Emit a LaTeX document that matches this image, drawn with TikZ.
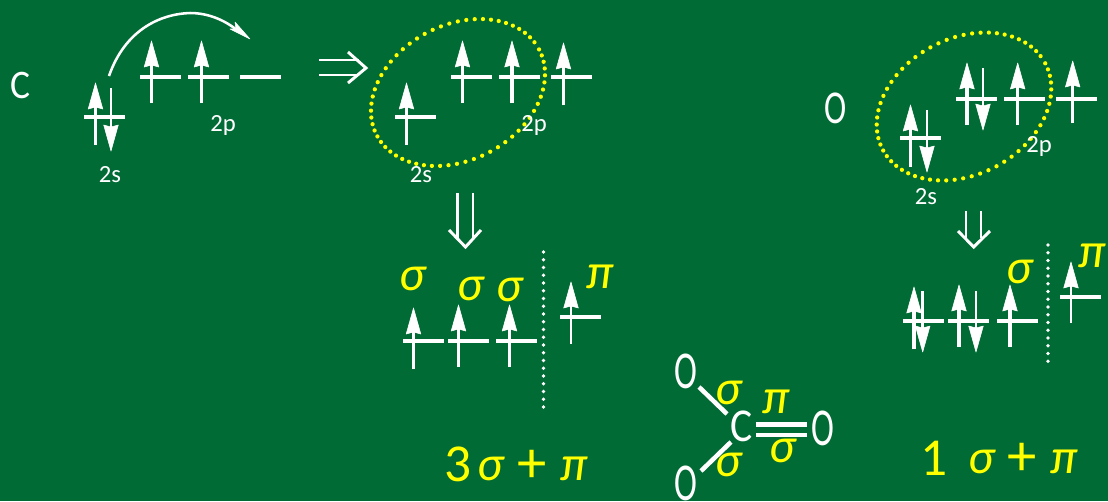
\documentclass[tikz,border=0pt]{standalone}
\usepackage{fontspec}
\setmainfont{Carlito}
\definecolor{board}{RGB}{0,107,53}
\definecolor{chalk}{RGB}{255,255,0}
\tikzset{
  x=0.75pt,y=-0.75pt,
  level/.style={draw=white,line width=2.3pt},
  stem/.style={draw=white,line width=2.6pt},
  thinstem/.style={draw=white,line width=1.9pt},
  head/.style={fill=white,draw=white,line width=0.4pt,line join=round},
  bigarrow/.style={draw=white,line width=2.2pt},
  bond/.style={draw=white,line width=3.4pt},
  small/.style={text=white,inner sep=0pt,font=\fontsize{18.5}{20}\selectfont},
  atom/.style={text=white,inner sep=0pt,font=\fontsize{38}{40}\selectfont},
  greek/.style={text=chalk,inner sep=0pt,font=\itshape\fontsize{37}{39}\selectfont},
  sum/.style={text=chalk,inner sep=0pt,font=\fontsize{40}{42}\selectfont},
  plussign/.style={text=chalk,inner sep=0pt,font=\fontsize{44}{46}\selectfont},
}
\newcommand{\lvl}[3]{\draw[level] (#1,#3) -- (#2,#3);}
\newcommand{\upspin}[3]{\draw[stem] (#1,#3) -- (#1,#2+20);
  \fill[head] (#1,#2) -- (#1+7.3,#2+26) -- (#1,#2+24) -- (#1-7.3,#2+26) -- cycle;}
\newcommand{\upthin}[3]{\draw[thinstem] (#1,#3) -- (#1,#2+20);
  \fill[head] (#1,#2) -- (#1+7.3,#2+26) -- (#1,#2+24) -- (#1-7.3,#2+26) -- cycle;}
\newcommand{\downspin}[3]{\draw[thinstem] (#1,#2) -- (#1,#3-20);
  \fill[head] (#1,#3) -- (#1+7.3,#3-26) -- (#1,#3-24) -- (#1-7.3,#3-26) -- cycle;}
\newcommand{\oxy}{\scalebox{0.68}[1.05]{O}}
% dotted tilted ellipse: centre x, centre y, semi-axes a, b, tilt 28 degrees
\newcommand{\dotring}[4]{\foreach \t in {0,5.6,...,355}{
  \fill[chalk] ({#1+#3*cos(\t)*cos(28)+#4*sin(\t)*sin(28)},{#2-#3*cos(\t)*sin(28)+#4*sin(\t)*cos(28)}) circle (1.6pt);}}
\begin{document}
\begin{tikzpicture}
\useasboundingbox (0,0) rectangle (1108,501);
\fill[board] (0,0) rectangle (1108,501);

% carbon ground state
\node[atom] (catom) at (20,85.5) {\scalebox{0.74}[0.8]{C}};
\lvl{84}{125}{117}
\upspin{95.5}{83}{145}
\downspin{111}{88}{151}
\lvl{140}{181}{77}
\lvl{188}{229}{77}
\lvl{240}{281}{77}
\upspin{151.5}{41}{103}
\upspin{201.5}{41}{103}
\node[small] (cs) at (110,175) {2s};
\node[small] (cp) at (223,125) {2p};
\coordinate (hopa) at (109,76);
\coordinate (hopb) at (190,13);
\coordinate (hopc) at (238,31);
\draw[white,line width=1.9pt] (hopa) .. controls (125,30) and (160,14) .. (hopb) .. controls (208,13) and (225,20) .. (hopc);
\fill[head] (250,39) -- (235,22) -- (236,29) -- (230,29) -- cycle;

% implies
\coordinate (ia) at (319,60);
\coordinate (ib) at (319,75);
\coordinate (ic) at (359,60);
\coordinate (id) at (359,75);
\draw[bigarrow] (ia) -- (ic);
\draw[bigarrow] (ib) -- (id);
\draw[bigarrow] (348,52) -- (366,68) -- (348,83);

% carbon excited state
\dotring{458}{92.5}{91.8}{67.4}
\lvl{395}{436}{117}
\upspin{406.5}{83}{145}
\lvl{451}{492}{77}
\lvl{499}{540}{77}
\lvl{551}{592}{77}
\upspin{462.5}{41}{103}
\upspin{512}{41}{103}
\upthin{563.5}{43}{105}
\node[small] (csb) at (421,175) {2s};
\node[small] (cpb) at (534,125) {2p};

% down arrow carbon
\coordinate (da) at (457.7,193);
\coordinate (db) at (473,193);
\coordinate (dc) at (457.7,238);
\coordinate (dd) at (473,238);
\draw[bigarrow] (da) -- (dc);
\draw[bigarrow] (db) -- (dd);
\draw[bigarrow] (449,230) -- (465.5,247) -- (481,230);

% carbon hybrid
\node[greek] (s1) at (412.5,278.5) {σ};
\node[greek] (s2) at (470.5,288.5) {σ};
\node[greek] (s3) at (509.5,289.5) {σ};
\node[greek] (p1) at (600.5,277) {π};
\lvl{403}{444}{341}
\lvl{448}{489}{341}
\lvl{496}{537}{341}
\upspin{413.5}{308}{369}
\upspin{458.5}{305}{367}
\upspin{509.5}{305}{367}
\foreach \k in {0,...,20} \fill[white] (543.5,{252+7.75*\k}) circle (1.45pt);
\lvl{560}{601}{317}
\upthin{571}{282}{344}
\node[sum] (n3) at (458,464) {3};
\node[greek] (s4) at (490.5,468.5) {σ};
\node[plussign] (plusa) at (532,466.5) {+};
\node[greek] (p2) at (574,468.5) {π};

% molecule
\node[atom] (oa) at (685.5,371) {\oxy};
\node[atom] (cc) at (741.5,426) {\scalebox{0.82}[0.93]{C}};
\node[atom] (ob) at (823,428) {\oxy};
\node[atom] (oc) at (685.5,483.5) {\oxy};
\coordinate (ba) at (699,387);
\coordinate (bb) at (727,414);
\coordinate (bc) at (731,442);
\coordinate (bd) at (701,471);
\coordinate (be) at (756,424.5);
\coordinate (bf) at (807,424.5);
\coordinate (bg) at (756,435);
\coordinate (bh) at (807,435);
\draw[bond] (ba) -- (bb);
\draw[bond] (bc) -- (bd);
\draw[bond] (be) -- (bf);
\draw[bond] (bg) -- (bh);
\node[greek] (s5) at (729,392.5) {σ};
\node[greek] (s6) at (729,465) {σ};
\node[greek] (p3) at (776,402) {π};
\node[greek] (s7) at (782.5,450.5) {σ};

% oxygen ground state
\node[atom] (oatom) at (836,108) {\scalebox{0.66}[0.93]{O}};
\dotring{964}{106.5}{92}{68}
\lvl{900}{941}{138}
\upspin{910.5}{105}{167}
\downspin{927}{110}{172}
\lvl{956}{997}{99}
\lvl{1004}{1045}{99}
\lvl{1056}{1097}{99}
\upspin{967}{63}{125}
\downspin{983}{68}{130}
\upspin{1017.7}{63}{125}
\upspin{1072.7}{61}{123}
\node[small] (os) at (926,197) {2s};
\node[small] (op) at (1039,146) {2p};

% down arrow oxygen
\coordinate (ea) at (966,211);
\coordinate (eb) at (981,211);
\coordinate (ec) at (966,238);
\coordinate (ed) at (981,238);
\draw[bigarrow] (ea) -- (ec);
\draw[bigarrow] (eb) -- (ed);
\draw[bigarrow] (958,231) -- (973.7,247) -- (990,231);

% oxygen hybrid
\node[greek] (s8) at (1019.5,271.5) {σ};
\node[greek] (p4) at (1092.5,256) {π};
\lvl{903}{944}{321}
\lvl{948}{989}{321}
\lvl{997}{1038}{321}
\upspin{914}{287}{349}
\downspin{922.7}{291}{352}
\upspin{959}{285}{347}
\downspin{976}{291}{352}
\upspin{1010}{285}{347}
\foreach \k in {0,...,15} \fill[white] (1048,{245+7.75*\k}) circle (1.45pt);
\lvl{1060}{1101}{297}
\upthin{1071}{262}{323}
\node[sum] (n1) at (934,458) {1};
\node[greek] (s9) at (981.5,461.5) {σ};
\node[plussign] (plusb) at (1022,459.5) {+};
\node[greek] (p5) at (1064.5,461.5) {π};
\end{tikzpicture}
\end{document}
